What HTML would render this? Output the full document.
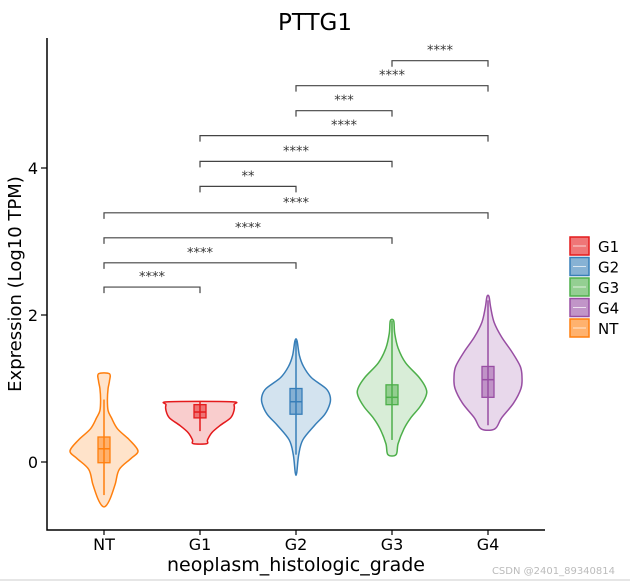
<!DOCTYPE html>
<html><head><meta charset="utf-8"><style>
body{margin:0;background:#fff;}
svg{display:block;font-family:"DejaVu Sans","Liberation Sans",sans-serif;}
</style></head><body>
<svg id="chart" width="630" height="581"></svg>
<script>
const categories=["NT","G1","G2","G3","G4"];
const colors=["#ff7f0e","#e41a1c","#377eb8","#4daf4a","#984ea3"];
// violin profiles: y levels and relative half-widths (0..1)
const violinY=[
 [-0.6,-0.5,-0.3,-0.1,0.05,0.15,0.3,0.45,0.6,0.7,0.85,1.0,1.1,1.2],
 [0.25,0.3,0.4,0.5,0.6,0.7,0.78,0.82],
 [-0.15,0.1,0.3,0.5,0.65,0.8,0.9,1.0,1.15,1.3,1.45,1.65],
 [0.1,0.25,0.45,0.6,0.75,0.9,1.0,1.15,1.35,1.55,1.75,1.92],
 [0.45,0.6,0.8,1.0,1.15,1.3,1.5,1.7,1.9,2.1,2.25]
];
const violinW=[
 [0.05,0.18,0.33,0.45,0.8,1.0,0.75,0.4,0.22,0.12,0.1,0.12,0.16,0.16],
 [0.2,0.22,0.35,0.6,0.9,1.0,1.0,0.92],
 [0.02,0.08,0.2,0.55,0.85,1.0,1.0,0.88,0.45,0.22,0.1,0.03],
 [0.12,0.18,0.35,0.55,0.82,1.0,1.0,0.8,0.4,0.18,0.08,0.05],
 [0.2,0.4,0.75,0.97,1.0,0.95,0.7,0.4,0.18,0.08,0.03]
];
const boxQ1=[-0.01,0.6,0.65,0.78,0.88];
const boxMed=[0.18,0.68,0.82,0.88,1.12];
const boxQ3=[0.34,0.78,1.0,1.05,1.3];
const whiskLo=[-0.45,0.42,0.1,0.3,0.5];
const whiskHi=[0.85,0.82,1.65,1.92,2.2];
const yTicks=[0,2,4];
const compFrom=[0,0,0,0,1,1,1,2,2,3];
const compTo=[1,2,3,4,2,3,4,3,4,4];
const compLabel=["****","****","****","****","**","****","****","***","****","****"];
const compLevel=[2.38,2.71,3.05,3.39,3.75,4.09,4.44,4.78,5.12,5.46];

const svg=document.getElementById('chart');
const NS="http://www.w3.org/2000/svg";
const X=i=>104+i*96;
const Y=v=>462-v*73.5;
const HW=34;
function mk(tag,attrs,parent){const e=document.createElementNS(NS,tag);for(const k in attrs)e.setAttribute(k,attrs[k]);(parent||svg).appendChild(e);return e;}

let t=mk('text',{x:315,y:30,'text-anchor':'middle','font-size':23,fill:'#000'});t.textContent='PTTG1';



let ax=mk('path',{d:'M47,38 V530 H545',fill:'none',stroke:'#000','stroke-width':1.5});



yTicks.forEach(v=>{
 mk('line',{x1:41,x2:47,y1:Y(v),y2:Y(v),stroke:'#000','stroke-width':1.2});
 const l=mk('text',{x:38,y:Y(v)+6,'text-anchor':'end','font-size':16,fill:'#000'});l.textContent=v;
 
 
});
let yt=mk('text',{x:0,y:0,transform:'translate(21,284) rotate(-90)','text-anchor':'middle','font-size':18,fill:'#000'});yt.textContent='Expression (Log10 TPM)';



categories.forEach((c,i)=>{
 mk('line',{x1:X(i),x2:X(i),y1:530,y2:535,stroke:'#000','stroke-width':1.2});
 const l=mk('text',{x:X(i),y:550,'text-anchor':'middle','font-size':16,fill:'#000'});l.textContent=c;
 
 
});
let xt=mk('text',{x:296,y:571,'text-anchor':'middle','font-size':19,fill:'#000'});xt.textContent='neoplasm_histologic_grade';



categories.forEach((c,i)=>{
 const g=mk('g',{});
 
 
 const ys=violinY[i],ws=violinW[i];
 let pts=ys.map((y,k)=>[X(i)+ws[k]*HW,Y(y)]);
 let left=ys.map((y,k)=>[X(i)-ws[k]*HW,Y(y)]).reverse();
 let all=pts.concat(left);
 let d='';const n=all.length;
 for(let k=0;k<n;k++){
  const p0=all[(k-1+n)%n],p1=all[k],p2=all[(k+1)%n],p3=all[(k+2)%n];
  if(k===0)d+='M'+p1[0]+','+p1[1];
  const c1=[p1[0]+(p2[0]-p0[0])/6,p1[1]+(p2[1]-p0[1])/6];
  const c2=[p2[0]-(p3[0]-p1[0])/6,p2[1]-(p3[1]-p1[1])/6];
  d+=` C${c1[0]},${c1[1]} ${c2[0]},${c2[1]} ${p2[0]},${p2[1]}`;
 }
 mk('path',{d:d+'Z',fill:colors[i],'fill-opacity':0.22,stroke:colors[i],'stroke-width':1.5},g);
 mk('line',{x1:X(i),x2:X(i),y1:Y(whiskLo[i]),y2:Y(whiskHi[i]),stroke:colors[i],'stroke-width':1.5},g);
 mk('rect',{x:X(i)-6,y:Y(boxQ3[i]),width:12,height:Y(boxQ1[i])-Y(boxQ3[i]),fill:colors[i],'fill-opacity':0.5,stroke:colors[i],'stroke-width':1.3},g);
 mk('line',{x1:X(i)-6,x2:X(i)+6,y1:Y(boxMed[i]),y2:Y(boxMed[i]),stroke:colors[i],'stroke-width':1.5},g);
});

compFrom.forEach((f,k)=>{
 const g=mk('g',{});
 
 
 const y=Y(compLevel[k]);
 mk('path',{d:`M${X(f)},${y+6} V${y} H${X(compTo[k])} V${y+6}`,fill:'none',stroke:'#444','stroke-width':1.2},g);
 const l=mk('text',{x:(X(f)+X(compTo[k]))/2,y:y-6,'text-anchor':'middle','font-size':13,fill:'#333'},g);l.textContent=compLabel[k];
});

const legOrder=[1,2,3,4,0];
legOrder.forEach((ci,k)=>{
 const g=mk('g',{});
 
 
 const y=237+k*20.5;
 mk('rect',{x:570,y:y,width:19,height:18,fill:colors[ci],'fill-opacity':0.6,stroke:colors[ci],'stroke-width':1.5},g);
 mk('line',{x1:573,x2:586,y1:y+9,y2:y+9,stroke:'#fff','stroke-width':1,'stroke-opacity':0.7},g);
 const l=mk('text',{x:598,y:y+15,'font-size':15,fill:'#000'},g);l.textContent=categories[ci];
});

let wm=mk('text',{x:615,y:574,'text-anchor':'end','font-size':10,fill:'#bbb'});wm.textContent='CSDN @2401_89340814';


mk('line',{x1:0,x2:630,y1:580,y2:580,stroke:'#ccc','stroke-width':1});
</script>
</body></html>
